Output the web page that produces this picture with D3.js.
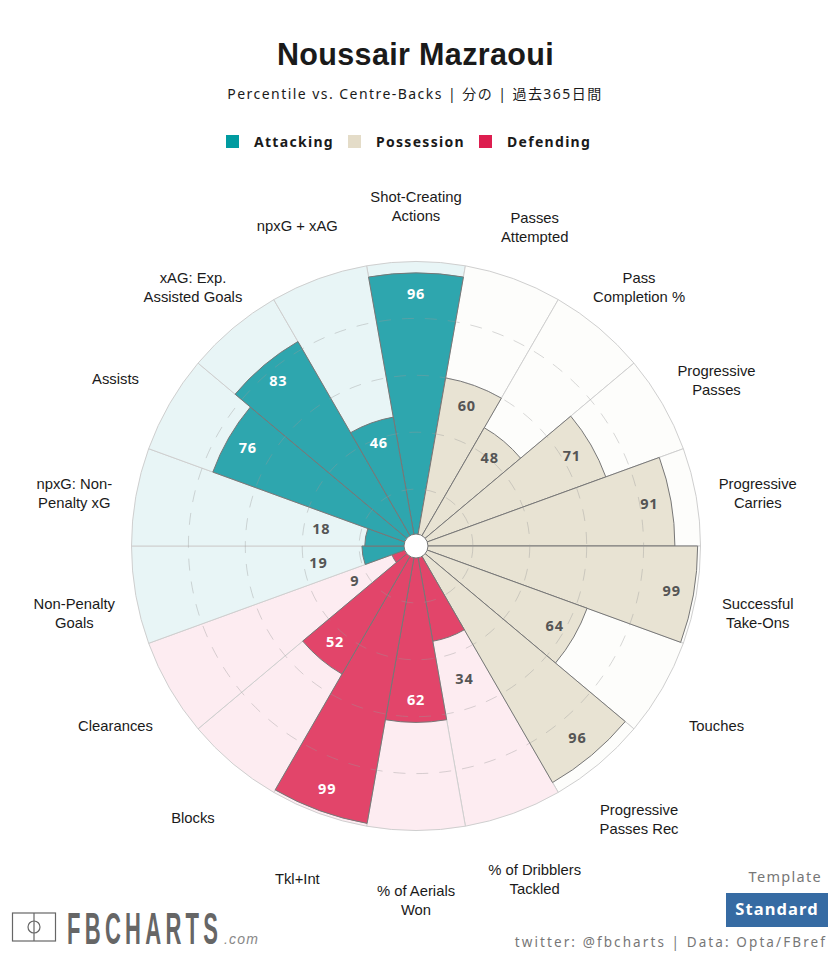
<!DOCTYPE html>
<html>
<head>
<meta charset="utf-8">
<script src="https://cdn.jsdelivr.net/npm/d3@7"></script>
<style>
	html, body { margin: 0; padding: 0; background: #fff; }
	svg { display: block; }
	.ui { font-family: 'Noto Sans', 'Noto Sans CJK JP', sans-serif; }
</style>
</head>
<body>
<div id="chart"></div>
<script>
const metrics = ['Shot-Creating\nActions', 'Passes\nAttempted', 'Pass\nCompletion %', 'Progressive\nPasses', 'Progressive\nCarries', 'Successful\nTake-Ons', 'Touches', 'Progressive\nPasses Rec', '% of Dribblers\nTackled', '% of Aerials\nWon', 'Tkl+Int', 'Blocks', 'Clearances', 'Non-Penalty\nGoals', 'npxG: Non-\nPenalty xG', 'Assists', 'xAG: Exp.\nAssisted Goals', 'npxG + xAG']
const percentiles = [96, 60, 48, 71, 91, 99, 64, 96, 34, 62, 99, 52, 9, 19, 18, 76, 83, 46]
const groups = ['Attacking', 'Possession', 'Possession', 'Possession', 'Possession', 'Possession', 'Possession', 'Possession', 'Defending', 'Defending', 'Defending', 'Defending', 'Defending', 'Attacking', 'Attacking', 'Attacking', 'Attacking', 'Attacking']
const ringValues = [20, 40, 60, 80]
const legendNames = ['Attacking', 'Possession', 'Defending']
const legendX = [226, 348, 479]

const width = 830
const height = 953
const cx = 416
const cy = 546

const barColor = d3.scaleOrdinal(legendNames, ['#009ba0', '#e4dcc8', '#dd1e4f'])
const fillColor = d3.scaleOrdinal(legendNames, ['#2ea6ae', '#e8e3d3', '#e2456a'])
const backColor = d3.scaleOrdinal(legendNames, ['#e8f5f6', '#fdfdfb', '#fdecf1'])
const r = d3.scaleLinear([0, 100], [0, 284.5])
const angle = d3.scaleBand(d3.range(metrics.length), [-Math.PI / 18, 2 * Math.PI - Math.PI / 18])
const arc = d3.arc()

const svg = d3.select('#chart').append('svg').attr('width', width).attr('height', height)

svg.append('text').attr('x', 415.5).attr('y', 65).attr('text-anchor', 'middle')
	.attr('font-family', 'Liberation Sans').attr('font-weight', 700).attr('font-size', 30.5)
	.attr('fill', '#1a1a1a').attr('letter-spacing', 0.35).text('Noussair Mazraoui')

svg.append('text').attr('class', 'ui').attr('x', 415).attr('y', 98.6).attr('text-anchor', 'middle')
	.attr('font-size', 14).attr('fill', '#1a1a1a').attr('letter-spacing', 1.45)
	.text('Percentile vs. Centre-Backs | 分の | 過去365日間')

const legend = svg.append('g')
legendNames.forEach((name, i) => {
	legend.append('rect').attr('x', legendX[i]).attr('y', 135).attr('width', 13).attr('height', 13)
		.attr('fill', barColor(name))
	legend.append('text').attr('class', 'ui').attr('x', legendX[i] + 28).attr('y', 147)
		.attr('font-size', 14).attr('font-weight', 700).attr('letter-spacing', 1.3)
		.attr('fill', '#1a1a1a').text(name)
})

const radar = svg.append('g').attr('transform', `translate(${cx},${cy})`)

const slices = metrics.map((m, i) => ({
	metric: m,
	value: percentiles[i],
	group: groups[i],
	start: angle(i),
	end: angle(i) + angle.bandwidth(),
	mid: angle(i) + angle.bandwidth() / 2,
}))

radar.selectAll('.back').data(slices).join('path').attr('class', 'back')
	.attr('d', d => arc({ innerRadius: 0, outerRadius: r(100), startAngle: d.start, endAngle: d.end }))
	.attr('fill', d => backColor(d.group))
	.attr('stroke', '#cfcfcf').attr('stroke-width', 1)

radar.selectAll('.bar').data(slices).join('path').attr('class', 'bar')
	.attr('d', d => arc({ innerRadius: 0, outerRadius: r(d.value), startAngle: d.start, endAngle: d.end }))
	.attr('fill', d => fillColor(d.group))
	.attr('stroke', '#777').attr('stroke-width', 1)

// dashes stay faint over the bars
radar.selectAll('.ring').data(ringValues).join('circle').attr('class', 'ring')
	.attr('r', d => r(d)).attr('fill', 'none')
	.attr('stroke', '#999').attr('stroke-opacity', 0.38).attr('stroke-width', 1).attr('stroke-dasharray', '12 11')

radar.append('circle').attr('r', 12).attr('fill', '#fff').attr('stroke', '#777').attr('stroke-width', 1)

// low values sit outside the bar, the rest just inside its edge
const valueRadius = d => r(d.value) + (d.value < 35 ? 45 : -22)

radar.selectAll('.value').data(slices).join('text').attr('class', 'value ui')
	.attr('x', d => valueRadius(d) * Math.sin(d.mid))
	.attr('y', d => -valueRadius(d) * Math.cos(d.mid) + 4.5)
	.attr('text-anchor', 'middle')
	.attr('font-size', 14.5).attr('font-weight', 700).attr('letter-spacing', 0.8)
	.attr('fill', d => (d.group !== 'Possession' && d.value >= 35 ? '#fff' : '#555'))
	.text(d => d.value)

const labels = radar.selectAll('.metric').data(slices).join('text').attr('class', 'metric')
	.attr('font-family', 'Liberation Sans').attr('font-size', 14.8).attr('fill', '#1a1a1a')
	.attr('text-anchor', 'middle')

labels.each(function (d) {
	const lines = d.metric.split('\n')
	const x = 347 * Math.sin(d.mid)
	const y = -347 * Math.cos(d.mid) + (lines.length > 1 ? 8 : 7)
	d3.select(this).selectAll('tspan').data(lines).join('tspan')
		.attr('x', x)
		.attr('y', (_, i) => y + 4.5 + (i - (lines.length - 1) / 2) * 19)
		.text(l => l)
})

const logo = svg.append('g').attr('stroke', '#666').attr('fill', 'none').attr('stroke-width', 1.2)
logo.append('rect').attr('x', 12.5).attr('y', 913).attr('width', 43).attr('height', 28)
logo.append('line').attr('x1', 34).attr('x2', 34).attr('y1', 913).attr('y2', 941)
logo.append('circle').attr('cx', 34).attr('cy', 927).attr('r', 6)

// wordmark is a tall condensed face, squeezed horizontally since none is installed
svg.append('text').attr('transform', 'translate(67,943.5) scale(0.5,1)')
	.attr('font-family', 'Liberation Sans').attr('font-weight', 700).attr('font-size', 44)
	.attr('fill', '#666').attr('textLength', 302).attr('lengthAdjust', 'spacing').text('FBCHARTS')
svg.append('text').attr('x', 224).attr('y', 944)
	.attr('font-family', 'Liberation Sans').attr('font-style', 'italic').attr('font-size', 14)
	.attr('fill', '#888').attr('letter-spacing', 1.2).text('.com')

svg.append('text').attr('class', 'ui').attr('x', 822).attr('y', 882).attr('text-anchor', 'end')
	.attr('font-size', 14.5).attr('fill', '#777').attr('letter-spacing', 1.3).text('Template')
svg.append('rect').attr('x', 726).attr('y', 893).attr('width', 102).attr('height', 34).attr('fill', '#366ba3')
svg.append('text').attr('class', 'ui').attr('x', 777).attr('y', 915).attr('text-anchor', 'middle')
	.attr('font-size', 16.5).attr('font-weight', 700).attr('fill', '#fff').attr('letter-spacing', 1.1).text('Standard')
svg.append('text').attr('class', 'ui').attr('x', 827).attr('y', 947).attr('text-anchor', 'end')
	.attr('font-size', 13.5).attr('fill', '#777').attr('letter-spacing', 2.1).text('twitter: @fbcharts | Data: Opta/FBref')
</script>
</body>
</html>
